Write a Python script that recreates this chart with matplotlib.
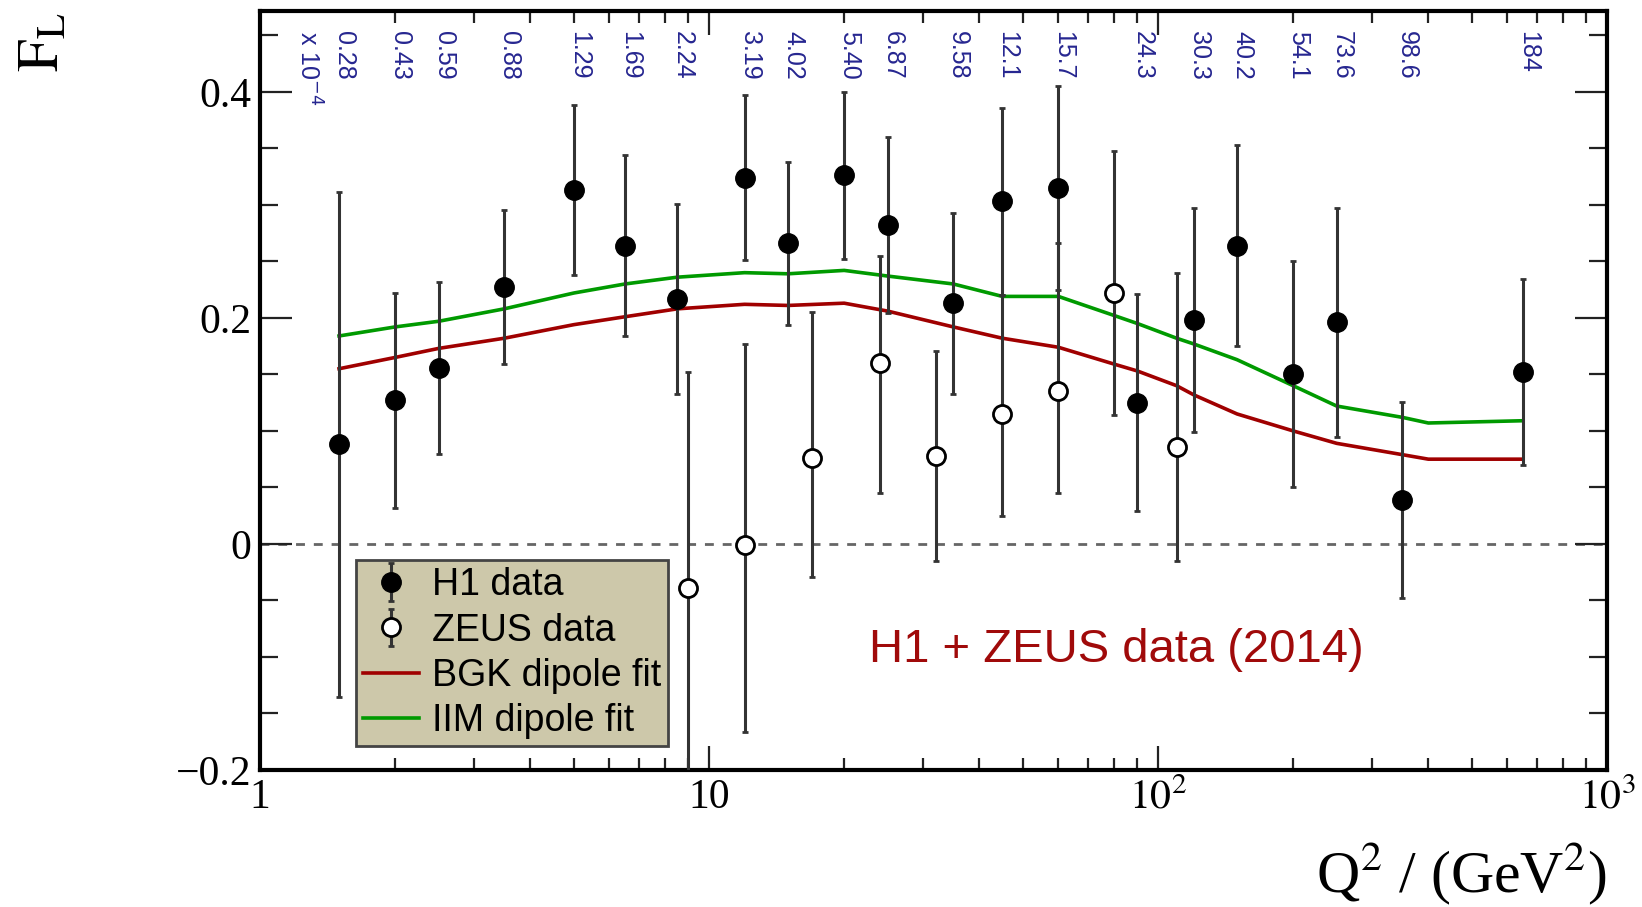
import matplotlib
matplotlib.use('Agg')
import matplotlib.pyplot as plt
import matplotlib.transforms as mtransforms
from matplotlib.ticker import FixedLocator, NullFormatter

plt.rcParams['font.family'] = ['Liberation Serif', 'DejaVu Serif']
plt.rcParams['mathtext.fontset'] = 'stix'

# H1 measurements
h1_q2 = [1.5, 2, 2.5, 3.5, 5, 6.5, 8.5, 12, 15, 20, 25, 35, 45, 60, 90, 120, 150, 200, 250, 350, 650]
h1_fl = [0.088, 0.127, 0.156, 0.227, 0.313, 0.264, 0.217, 0.324, 0.266, 0.326, 0.282,
         0.213, 0.303, 0.315, 0.125, 0.198, 0.264, 0.150, 0.196, 0.039, 0.152]
h1_err = [0.223, 0.095, 0.076, 0.068, 0.075, 0.080, 0.084, 0.073, 0.072, 0.074, 0.078,
          0.080, 0.083, 0.090, 0.096, 0.099, 0.089, 0.100, 0.101, 0.087, 0.082]
# Bjorken x (x 10^-4) written above each H1 bin
h1_xbj = ['0.28', '0.43', '0.59', '0.88', '1.29', '1.69', '2.24', '3.19', '4.02', '5.40', '6.87',
          '9.58', '12.1', '15.7', '24.3', '30.3', '40.2', '54.1', '73.6', '98.6', '184']

# ZEUS measurements (asymmetric errors)
zeus_q2 = [9, 12, 17, 24, 32, 45, 60, 80, 110]
zeus_fl = [-0.039, -0.001, 0.076, 0.160, 0.078, 0.115, 0.135, 0.222, 0.086]
zeus_lo = [0.192, 0.165, 0.105, 0.115, 0.093, 0.090, 0.090, 0.108, 0.101]
zeus_hi = [0.191, 0.178, 0.129, 0.095, 0.093, 0.105, 0.131, 0.126, 0.154]

# dipole model curves
fit_q2 = [1.5, 2, 2.5, 3.5, 5, 6.5, 8.5, 12, 15, 20, 25, 35, 45, 60, 80, 90, 110, 120,
          150, 200, 250, 350, 400, 650]
bgk = [0.155, 0.165, 0.173, 0.182, 0.194, 0.201, 0.208, 0.212, 0.211, 0.213, 0.206, 0.192,
       0.182, 0.174, 0.159, 0.153, 0.140, 0.132, 0.115, 0.100, 0.089, 0.079, 0.075, 0.075]
iim = [0.184, 0.192, 0.197, 0.208, 0.222, 0.230, 0.236, 0.240, 0.239, 0.242, 0.237, 0.230,
       0.219, 0.219, 0.202, 0.195, 0.182, 0.177, 0.163, 0.140, 0.122, 0.112, 0.107, 0.109]

fig = plt.figure(figsize=(16.42, 9.07), dpi=100)
ax = fig.add_axes([0.15834, 0.15105, 0.82034, 0.83682])

ax.axhline(0, color='#666666', lw=2, dashes=(3.2, 3.2), zorder=1)

l_bgk, = ax.plot(fit_q2, bgk, color='#a00000', lw=2.6, zorder=3)
l_iim, = ax.plot(fit_q2, iim, color='#009a00', lw=2.6, zorder=3)

e_h1 = ax.errorbar(h1_q2, h1_fl, yerr=h1_err, fmt='o', color='black', ms=14,
                   ecolor='#333333', elinewidth=2.2, capsize=2, capthick=2, zorder=4)
e_zeus = ax.errorbar(zeus_q2, zeus_fl, yerr=[zeus_lo, zeus_hi], fmt='o', mfc='white',
                     mec='black', mew=2, ms=13, ecolor='#333333', elinewidth=2.2,
                     capsize=2, capthick=2, zorder=4)

ax.set_xscale('log')
ax.set_xlim(1, 1000)
ax.set_ylim(-0.2, 0.4715)

ax.set_xticks([1, 10, 100, 1000])
ax.set_xticklabels(['1', '10', r'$10^{2}$', r'$10^{3}$'])
ax.xaxis.set_minor_locator(FixedLocator([m * 10 ** d for d in range(3) for m in range(2, 10)]))
ax.xaxis.set_minor_formatter(NullFormatter())
ax.set_yticks([-0.2, 0, 0.2, 0.4])
ax.set_yticklabels(['\u22120.2', '0', '0.2', '0.4'])
ax.yaxis.set_minor_locator(FixedLocator([-0.15, -0.1, -0.05, 0.05, 0.1, 0.15, 0.25, 0.3, 0.35, 0.45]))

ax.tick_params(which='both', direction='in', top=True, right=True, width=1.6, color='#222222',
               labelsize=30)
ax.tick_params(axis='x', which='major', length=17, pad=6)
ax.tick_params(axis='x', which='minor', length=8.6)
ax.tick_params(axis='y', which='major', length=23, pad=6.5)
ax.tick_params(axis='y', which='minor', length=13)
for s in ax.spines.values():
    s.set_linewidth(3)

# x values above the points
tr = mtransforms.offset_copy(ax.get_xaxis_transform(), fig=fig, x=5, y=0, units='dots')
for q, lab in zip(h1_q2, h1_xbj):
    ax.text(q, 0.9736, lab, transform=tr, rotation=-90, ha='center', va='top',
            fontsize=18, family='Liberation Sans', color='#262690')
ax.text(0.036, 0.9736, r'x 10$^{-4}$', transform=ax.transAxes, rotation=-90, ha='center',
        va='top', fontsize=18, family='Liberation Sans', color='#262690',
        math_fontfamily='dejavusans')

ax.text(0.452, 0.142, 'H1 + ZEUS data (2014)', transform=ax.transAxes, color='#a00a0a',
        fontsize=34, family='Liberation Sans', va='baseline', ha='left')

leg = ax.legend([e_h1, e_zeus, l_bgk, l_iim],
                ['H1 data', 'ZEUS data', 'BGK dipole fit', 'IIM dipole fit'],
                loc='lower left', bbox_to_anchor=(0.0713, 0.0316), borderaxespad=0,
                prop={'family': 'Liberation Sans', 'size': 27}, frameon=True, fancybox=False,
                facecolor='#cdc8aa', edgecolor='#444444', framealpha=1, borderpad=0.18,
                labelspacing=0.25, handlelength=1.5, handletextpad=0.35)
leg.get_frame().set_linewidth(2)
leg.set_zorder(6)

fig.text(44 / 1642, 1 - 12 / 907, r'$\mathrm{F_{L}}$', rotation=90, ha='center', va='top',
         fontsize=42)
fig.text(1607 / 1642, 1 - 892 / 907, r'Q$^{2}$ / (GeV$^{2}$)', ha='right', va='baseline',
         fontsize=43)

fig.savefig('out.png', dpi=100)
